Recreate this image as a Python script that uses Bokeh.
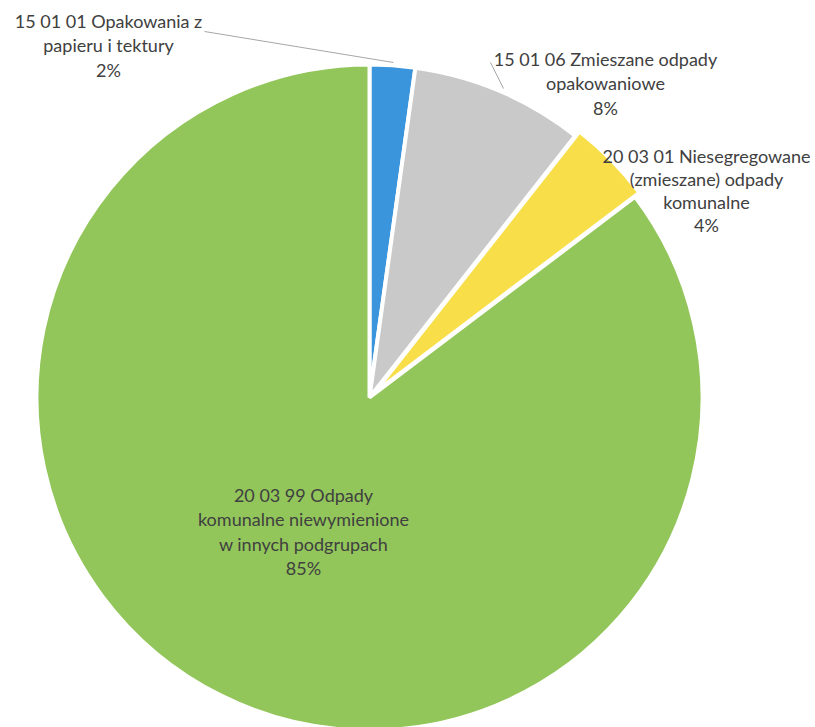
import math
from bokeh.plotting import figure
from bokeh.models import Range1d
from bokeh.core.properties import value
from bokeh.embed import file_html
from bokeh.resources import INLINE

# ---- data ----
categories = [
    "15 01 01 Opakowania z\npapieru i tektury",
    "15 01 06 Zmieszane odpady\nopakowaniowe",
    "20 03 01 Niesegregowane\n(zmieszane) odpady\nkomunalne",
    "20 03 99 Odpady\nkomunalne niewymienione\nw innych podgrupach",
]
shares = [2.2, 8.4, 4.1, 85.3]
pct_labels = ["2%", "8%", "4%", "85%"]
colors = ["#3A95DC", "#C9C9C9", "#F8DF4A", "#92C65A"]
explode = [0, 0, 6, 0]

W, H = 815, 727

def px(X, Y):
    return X, H - Y

p = figure(width=W, height=H, x_range=Range1d(0, W), y_range=Range1d(0, H),
           output_backend="svg", toolbar_location=None, min_border=0)
p.axis.visible = False
p.grid.visible = False
p.outline_line_color = None
p.background_fill_color = "white"

cx, cy = px(369, 397)
R = 333
total = sum(shares)
cum = 0.0
for s, c, e in zip(shares, colors, explode):
    a0 = math.pi / 2 - cum / total * 2 * math.pi
    cum += s
    a1 = math.pi / 2 - cum / total * 2 * math.pi
    mid = (a0 + a1) / 2
    x0 = cx + e * math.cos(mid)
    y0 = cy + e * math.sin(mid)
    p.wedge(x=[x0], y=[y0], radius=R, start_angle=[a0], end_angle=[a1],
            direction="clock", fill_color=c, line_color="white", line_width=4)

# label layout (page coords of first line centre, line spacing)
label_pos = [(108, 20, 24.5), (605, 58, 24.5), (706, 155, 23), (303, 494, 24.5)]
for cat, pct, (lx, ly, sp) in zip(categories, pct_labels, label_pos):
    lines = cat.split("\n") + [pct]
    for i, t in enumerate(lines):
        x, y = px(lx, ly + i * sp)
        p.text(x=[x], y=[y], text=[t], text_align="center", text_baseline="middle",
               text_font=value("Lato"), text_font_size="18px", text_color="#404040")

# leader lines
for (X0, Y0), (X1, Y1) in [((204, 31), (393, 62)), ((490, 62), (503, 88))]:
    a, b = px(X0, Y0)
    c2, d = px(X1, Y1)
    p.line([a, c2], [b, d], line_color="#A6A6A6", line_width=1)

open("out.html", "w").write(file_html(p, INLINE))
